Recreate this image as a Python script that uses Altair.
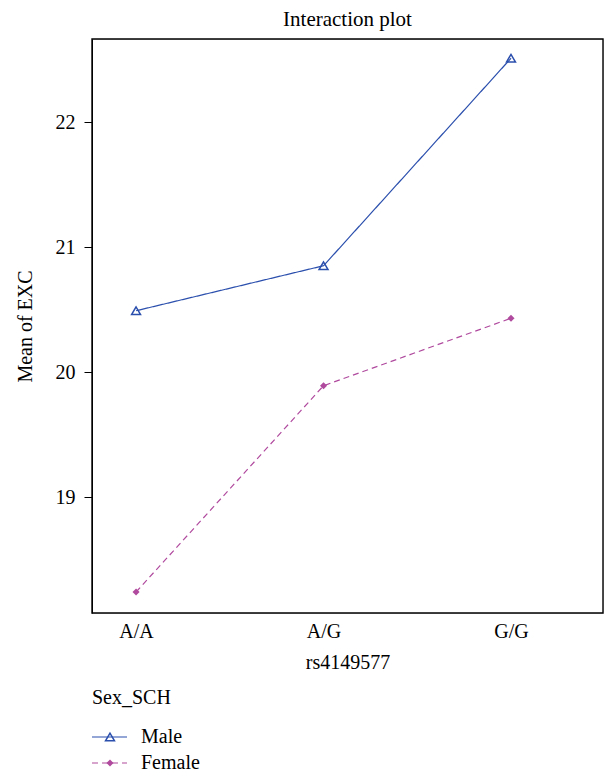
import altair as alt
import pandas as pd

genotypes = ["A/A", "A/G", "G/G"]
male_means = [20.49, 20.85, 22.51]
female_means = [18.24, 19.89, 20.43]
sexes = ["Male", "Female"]
legend_title = "Sex_SCH"

rows = []
for i, g in enumerate(genotypes):
    rows.append({"rs4149577": g, "idx": i, "Sex_SCH": "Male", "mean": male_means[i]})
    rows.append({"rs4149577": g, "idx": i, "Sex_SCH": "Female", "mean": female_means[i]})
df = pd.DataFrame(rows)

FONT = "Liberation Serif"
FS = 20
W, H = 511, 574
colors = ["#2b4fad", "#b04a9e"]

color = alt.Color("Sex_SCH:N", scale=alt.Scale(domain=sexes, range=colors), legend=None)
dash = alt.StrokeDash("Sex_SCH:N", scale=alt.Scale(domain=sexes, range=[[1, 0], [6, 4]]), legend=None)

label_js = "[" + ",".join("'%s'" % g for g in genotypes) + "][datum.value]"
x = alt.X("idx:Q", scale=alt.Scale(domain=[-0.235, 2.4907], nice=False, zero=False),
          axis=alt.Axis(values=[0, 1, 2], labelExpr=label_js,
                        title="rs4149577", ticks=False, domain=False, grid=False,
                        labelPadding=8, titlePadding=11, labelFontSize=FS, titleFontSize=FS,
                        labelFont=FONT, titleFont=FONT, titleFontWeight="normal",
                        labelColor="black", titleColor="black"))
y = alt.Y("mean:Q", scale=alt.Scale(domain=[18.072, 22.664], nice=False, zero=False),
          axis=alt.Axis(values=[19, 20, 21, 22], title="Mean of EXC", grid=False,
                        tickSize=8, tickColor="black", domainColor="black", tickWidth=1,
                        labelPadding=9, titlePadding=20, labelFontSize=FS, titleFontSize=FS,
                        labelFont=FONT, titleFont=FONT, titleFontWeight="normal",
                        labelColor="black", titleColor="black"))

frame = alt.Chart(pd.DataFrame({"f": [0]})).mark_rect(
    filled=False, stroke="black", strokeWidth=1.4, clip=False).encode(
    x=alt.value(0), x2=alt.value(W), y=alt.value(0), y2=alt.value(H))

lines = alt.Chart(df).mark_line(strokeWidth=1.2).encode(x=x, y=y, color=color, strokeDash=dash, detail="Sex_SCH:N")
pts_male = alt.Chart(df).transform_filter("datum.Sex_SCH == 'Male'").mark_point(
    shape="triangle-up", size=80, filled=False, strokeWidth=1.5, opacity=1).encode(x=x, y=y, color=color)
pts_female = alt.Chart(df).transform_filter("datum.Sex_SCH == 'Female'").mark_point(
    shape="diamond", size=50, filled=True, opacity=1).encode(x=x, y=y, color=color)

main = alt.layer(lines, pts_male, pts_female)

# legend drawn below the plot area
leg_df = pd.DataFrame({"Sex_SCH": sexes})
ly = alt.Y("Sex_SCH:N", scale=alt.Scale(type="point", domain=sexes, range=[698, 724], padding=0), axis=None)
leg_rule = alt.Chart(leg_df).mark_rule(strokeWidth=1.2, clip=False).encode(
    x=alt.value(0), x2=alt.value(35), y=ly, color=color, strokeDash=dash)
leg_m = alt.Chart(leg_df).transform_filter("datum.Sex_SCH == 'Male'").mark_point(
    shape="triangle-up", size=80, filled=False, strokeWidth=1.5, opacity=1, clip=False).encode(
    x=alt.value(18), y=ly, color=color)
leg_f = alt.Chart(leg_df).transform_filter("datum.Sex_SCH == 'Female'").mark_point(
    shape="diamond", size=50, filled=True, opacity=1, clip=False).encode(
    x=alt.value(18), y=ly, color=color)
leg_t = alt.Chart(leg_df).mark_text(align="left", baseline="middle", font=FONT, fontSize=FS,
                                     color="black", clip=False).encode(
    x=alt.value(49), y=ly, text="Sex_SCH:N")
leg_title = alt.Chart(pd.DataFrame({"t": [legend_title]})).mark_text(
    align="left", baseline="middle", font=FONT, fontSize=FS, color="black", clip=False).encode(
    x=alt.value(0), y=alt.value(659), text="t:N")
legend = alt.layer(leg_rule, leg_m, leg_f, leg_t, leg_title)

chart = alt.layer(main, legend, frame).resolve_scale(y="independent").properties(
    width=W, height=H,
    padding={"left": 84, "top": 31, "right": 1, "bottom": 159},
    autosize=alt.AutoSizeParams(type="none"),
    title=alt.TitleParams("Interaction plot", font=FONT, fontSize=21, fontWeight="normal",
                          color="black", offset=8, anchor="middle"),
).configure_view(stroke="black", strokeWidth=1.4).configure(background="white")

chart.save("out.html", embed_options={"renderer": "svg", "actions": False})
